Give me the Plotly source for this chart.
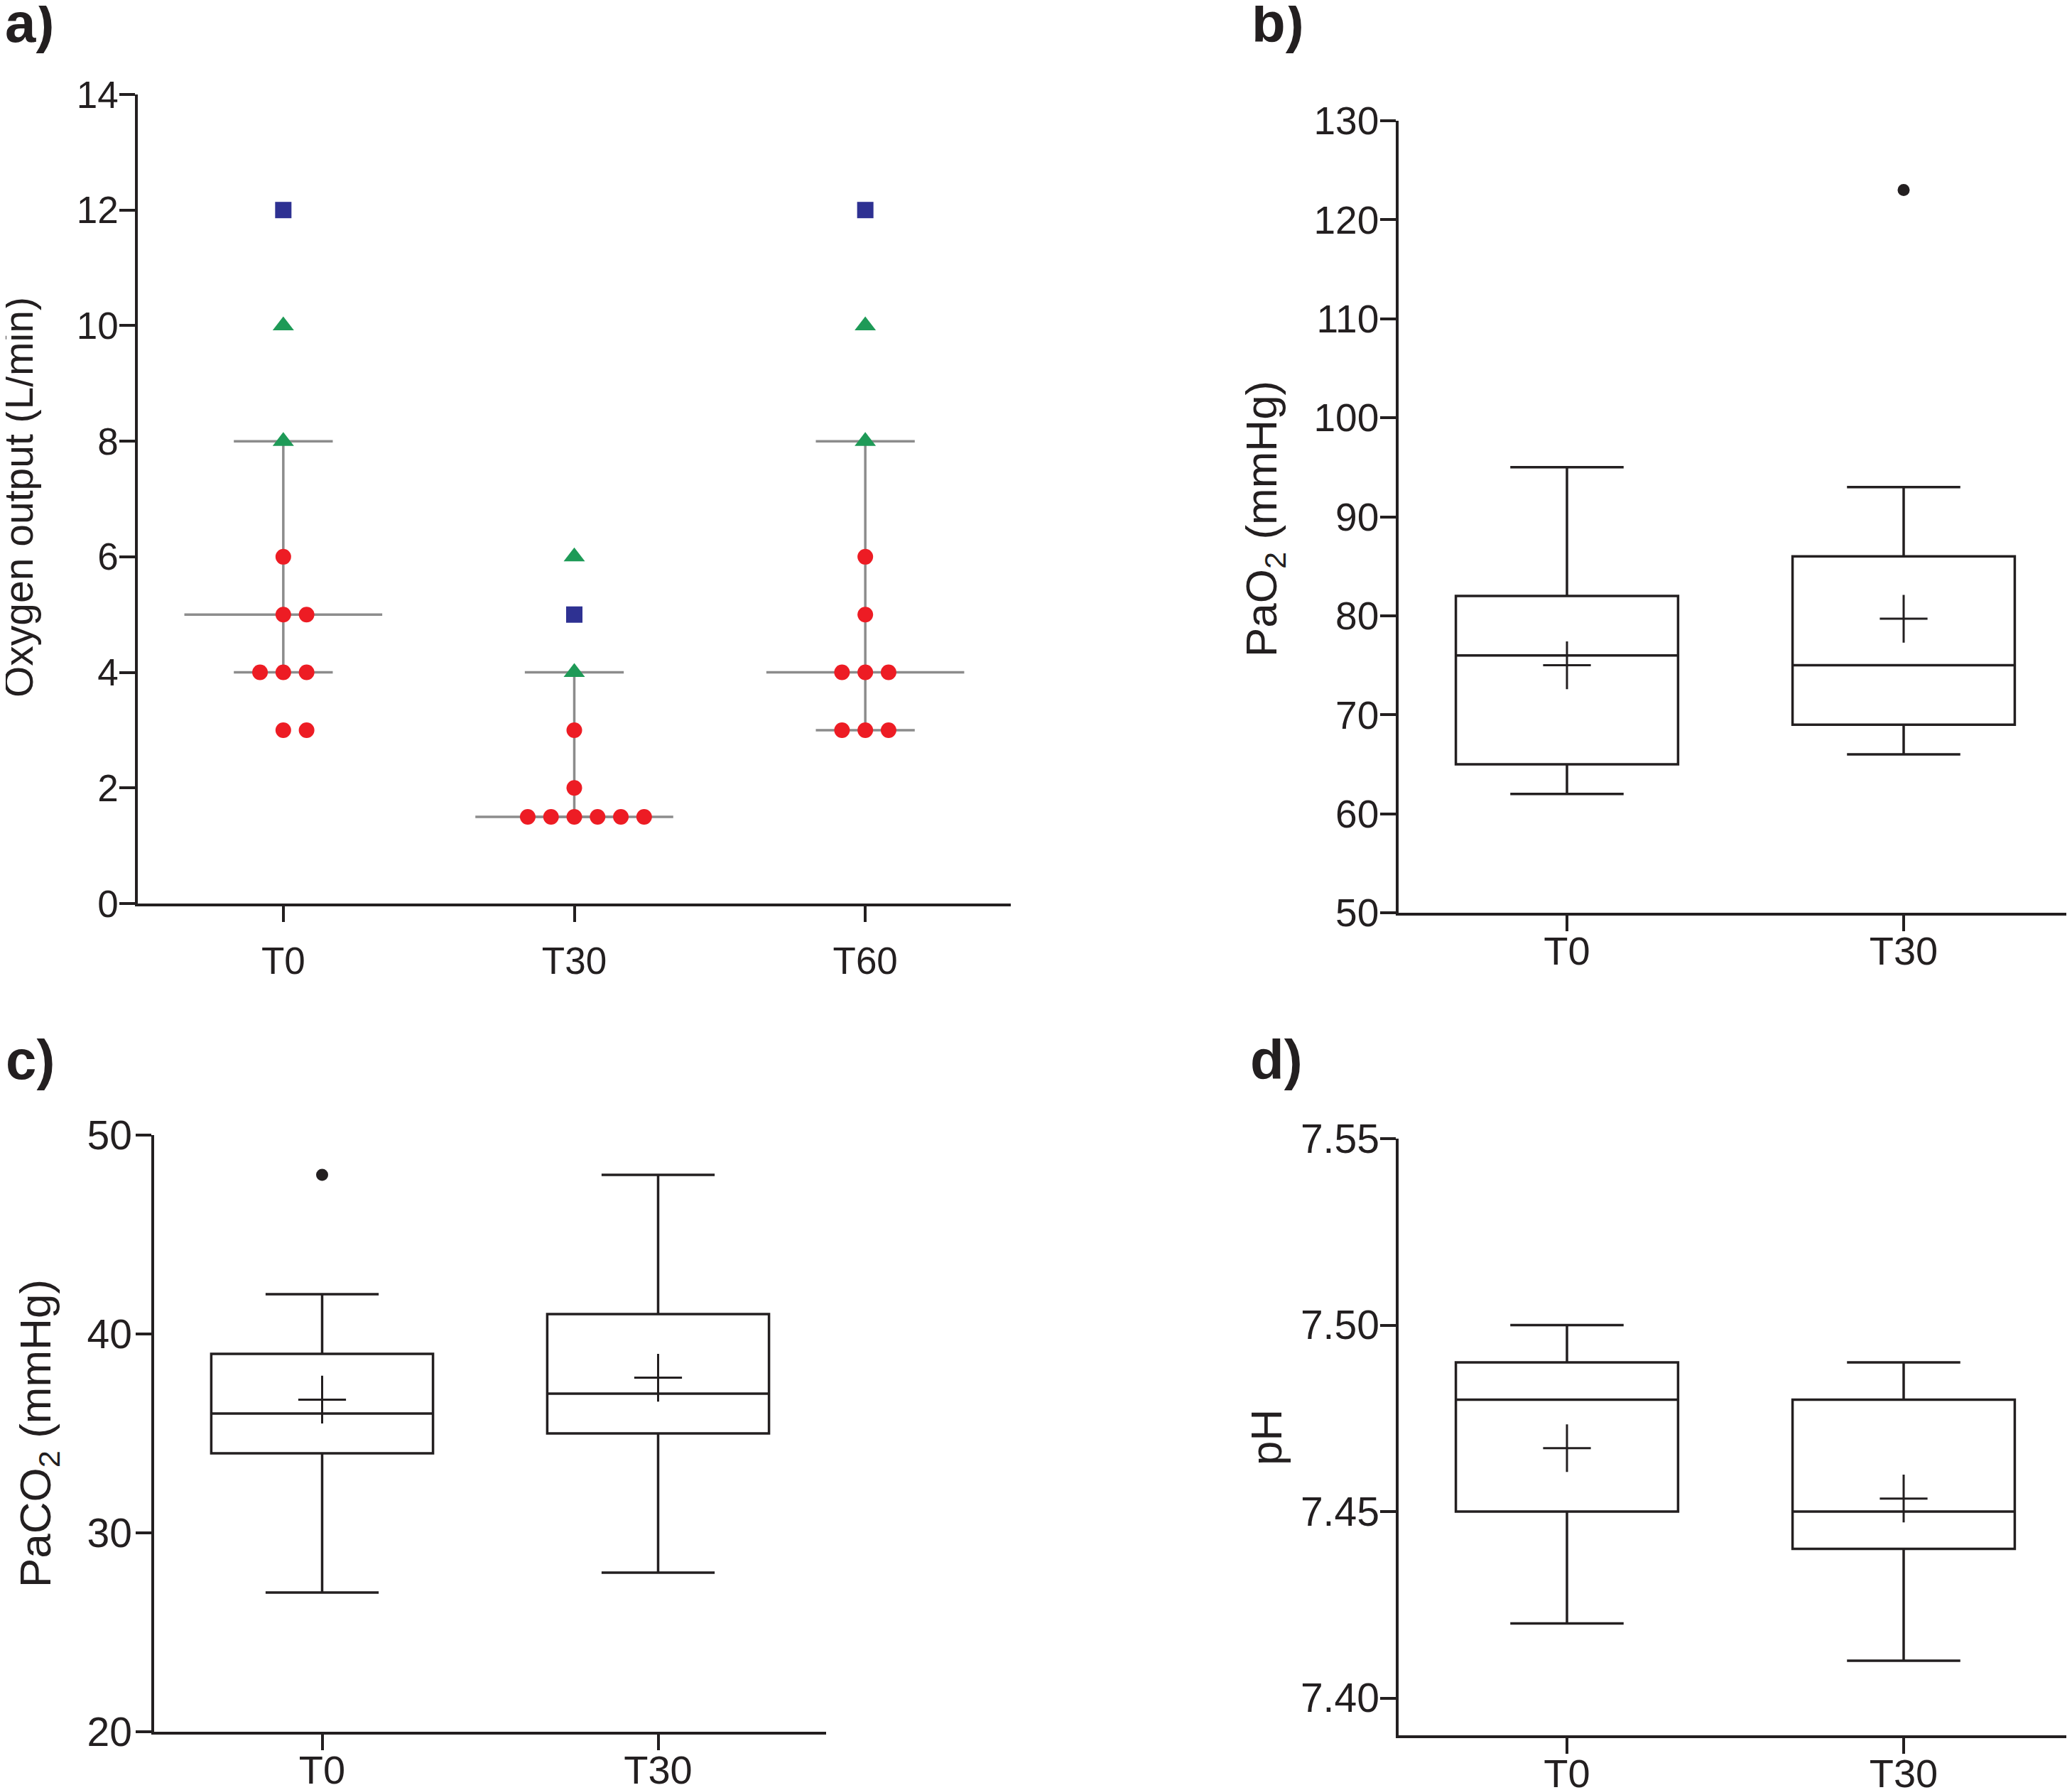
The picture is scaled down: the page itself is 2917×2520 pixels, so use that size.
import plotly.graph_objects as go

# =====================================================
# DATA
# =====================================================

groups_a = ["T0", "T30", "T60"]

# oxygen output per patient, split by marker symbol
circles_a = [
    [6, 5, 5, 4, 4, 4, 3, 3],
    [3, 2, 1.5, 1.5, 1.5, 1.5, 1.5, 1.5],
    [6, 5, 4, 4, 4, 3, 3, 3],
]
triangles_a = [[10, 8], [6, 4], [10, 8]]
squares_a = [[12], [5], [12]]

median_a = [5, 1.5, 4]
q1_a = [4, 1.5, 3]
q3_a = [8, 4, 8]

groups_box = ["T0", "T30"]

# PaO2
pao2_low = [62, 66]
pao2_q1 = [65, 69]
pao2_med = [76, 75]
pao2_q3 = [82, 86]
pao2_high = [95, 93]
pao2_mean = [75, 79.7]
pao2_out_x = [1]
pao2_out_y = [123]

# PaCO2
paco2_low = [27, 28]
paco2_q1 = [34, 35]
paco2_med = [36, 37]
paco2_q3 = [39, 41]
paco2_high = [42, 48]
paco2_mean = [36.7, 37.8]
paco2_out_x = [0]
paco2_out_y = [48]

# pH
ph_low = [7.42, 7.41]
ph_q1 = [7.45, 7.44]
ph_med = [7.48, 7.45]
ph_q3 = [7.49, 7.48]
ph_high = [7.50, 7.49]
ph_mean = [7.467, 7.4535]

# =====================================================
# STYLE
# =====================================================

PAGE_W, PAGE_H = 2917, 2520
BODY = 8  # default page margin around the plot div
W, H = PAGE_W - BODY, PAGE_H - BODY
FONT = "Liberation Sans, Arial, sans-serif"
INK = "#231f20"
GREY = "#8c8c8c"
RED = "#ed1c24"
GREEN = "#1e9a57"
BLUE = "#2e3192"
STEP = 0.08


def px_x(p):
    return (p - BODY) / W


def px_y(p):
    return 1 - (p - BODY) / H


def spread(values):
    # side-by-side offsets for tied values
    xs = []
    seen = {}
    counts = {v: values.count(v) for v in values}
    for v in values:
        k = seen.get(v, 0)
        seen[v] = k + 1
        xs.append((k - (counts[v] - 1) // 2) * STEP)
    return xs


fig = go.Figure()

# =====================================================
# PANEL A
# =====================================================

lx, ly = [], []
for i in range(len(groups_a)):
    lx += [i - 0.34, i + 0.34, None, i - 0.17, i + 0.17, None,
           i - 0.17, i + 0.17, None, i, i, None]
    ly += [median_a[i], median_a[i], None, q1_a[i], q1_a[i], None,
           q3_a[i], q3_a[i], None, q1_a[i], q3_a[i], None]

fig.add_trace(go.Scatter(
    x=lx, y=ly, mode="lines",
    line=dict(color=GREY, width=3.5),
    xaxis="x", yaxis="y", hoverinfo="skip"
))

for vals, sym, col, size in [
    (circles_a, "circle", RED, 22),
    (triangles_a, "triangle-up", GREEN, 26),
    (squares_a, "square", BLUE, 23),
]:
    xs, ys = [], []
    for i, v in enumerate(vals):
        xs += [i + o for o in spread(v)]
        ys += v
    fig.add_trace(go.Scatter(
        x=xs, y=ys, mode="markers",
        marker=dict(symbol=sym, color=col, size=size, line=dict(width=0)),
        xaxis="x", yaxis="y"
    ))

# =====================================================
# PANELS B, C, D (box plots)
# =====================================================

box_sets = [
    ("x2", "y2", pao2_low, pao2_q1, pao2_med, pao2_q3, pao2_high, pao2_mean,
     pao2_out_x, pao2_out_y),
    ("x3", "y3", paco2_low, paco2_q1, paco2_med, paco2_q3, paco2_high, paco2_mean,
     paco2_out_x, paco2_out_y),
    ("x4", "y4", ph_low, ph_q1, ph_med, ph_q3, ph_high, ph_mean, [], []),
]

for xa, ya, low, q1, med, q3, high, mean, ox, oy in box_sets:
    pos = list(range(len(groups_box)))
    fig.add_trace(go.Box(
        x=pos, q1=q1, median=med, q3=q3,
        lowerfence=low, upperfence=high,
        width=0.66, whiskerwidth=0.51,
        fillcolor="rgba(0,0,0,0)",
        line=dict(color=INK, width=3.5),
        xaxis=xa, yaxis=ya
    ))
    fig.add_trace(go.Scatter(
        x=pos, y=mean, mode="markers",
        marker=dict(symbol="cross-thin", size=48,
                    line=dict(color=INK, width=3)),
        xaxis=xa, yaxis=ya
    ))
    if ox:
        fig.add_trace(go.Scatter(
            x=ox, y=oy, mode="markers",
            marker=dict(symbol="circle", size=17, color=INK),
            xaxis=xa, yaxis=ya
        ))

# =====================================================
# AXES
# =====================================================


def xaxis(domain, labels, size, standoff, anchor):
    return dict(
        domain=domain, range=[-0.5, len(labels) - 0.5], anchor=anchor,
        tickvals=list(range(len(labels))), ticktext=labels,
        showline=True, linecolor=INK, linewidth=3.5,
        ticks="outside", ticklen=22, tickwidth=3.5, tickcolor=INK,
        ticklabelstandoff=standoff,
        showgrid=False, zeroline=False, automargin=False,
        tickfont=dict(family=FONT, size=size, color=INK),
    )


def yaxis(domain, rng, dtick, size, anchor, tick0, standoff, fmt=""):
    return dict(
        domain=domain, range=rng, dtick=dtick, tick0=tick0,
        tickformat=fmt,
        showline=True, linecolor=INK, linewidth=3.5,
        ticks="outside", ticklen=22, tickwidth=3.5, tickcolor=INK,
        ticklabelstandoff=standoff,
        showgrid=False, zeroline=False, automargin=False, anchor=anchor,
        tickfont=dict(family=FONT, size=size, color=INK),
    )


fig.update_layout(
    width=W, height=H,
    margin=dict(l=0, r=0, t=0, b=0),
    paper_bgcolor="white", plot_bgcolor="white",
    showlegend=False,
    xaxis=xaxis([px_x(194), px_x(1423)], groups_a, 53, 10, "y"),
    yaxis=yaxis([px_y(1272), px_y(133)], [0, 14], 2, 53, "x", 0, -9),
    xaxis2=xaxis([px_x(1969), 1.0], groups_box, 56, -20, "y2"),
    yaxis2=yaxis([px_y(1285), px_y(170)], [50, 130], 10, 55, "x2", 50, -9),
    xaxis3=xaxis([px_x(217), px_x(1163)], groups_box, 56, -20, "y3"),
    yaxis3=yaxis([px_y(2438), px_y(1598)], [20, 50], 10, 57, "x3", 20, -6),
    xaxis4=xaxis([px_x(1969), 1.0], groups_box, 56, -20, "y4"),
    yaxis4=yaxis([px_y(2443), px_y(1603)], [7.39, 7.55], 0.05, 57, "x4", 7.40, -10, ".2f"),
)

# =====================================================
# TITLES AND PANEL LETTERS
# =====================================================

titles = [
    ("Oxygen output (L/min)", 26, 700, 57),
    ("PaO<sub>2</sub> (mmHg)", 1780, 731, 62),
    ("PaCO<sub>2</sub> (mmHg)", 54, 2018, 62),
    ("pH", 1782, 2024, 62),
]
for text, x, y, size in titles:
    fig.add_annotation(
        text=text, x=px_x(x), y=px_y(y), xref="paper", yref="paper",
        textangle=-90, showarrow=False, xanchor="center", yanchor="middle",
        font=dict(family=FONT, size=size, color=INK),
    )

letters = [("a)", 5, 32), ("b)", 1760, 32), ("c)", 6, 1492), ("d)", 1758, 1492)]
for text, x, y in letters:
    fig.add_annotation(
        text="<b>" + text + "</b>", x=px_x(x), y=px_y(y),
        xref="paper", yref="paper", showarrow=False,
        xanchor="left", yanchor="middle",
        font=dict(family=FONT, size=78, color=INK),
    )

fig.write_html("out.html")
